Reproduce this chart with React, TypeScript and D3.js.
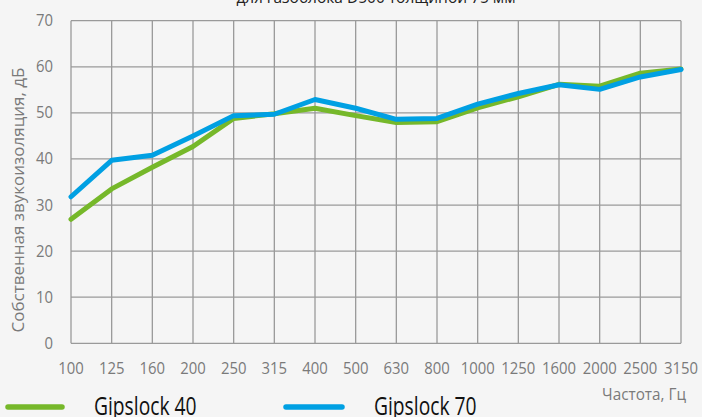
import React from "react";
import * as d3 from "d3";

const categories = ["100","125","160","200","250","315","400","500","630","800","1000","1250","1600","2000","2500","3150"];
const gipslock40 = [26.9,33.5,38.2,42.7,48.8,49.8,51.0,49.4,47.9,48.1,51.1,53.5,56.2,55.8,58.6,59.5];
const gipslock70 = [31.8,39.7,40.8,45.0,49.4,49.7,52.9,51.0,48.6,48.8,51.9,54.2,56.1,55.1,57.8,59.4];
const yTicks = [0,10,20,30,40,50,60,70];
const seriesNames = ["Gipslock 40","Gipslock 70"];
const colors = ["#76b82a","#00a0e3"];

const W = 702, H = 417;
const left = 71, right = 681, top = 20.7, bottom = 343.3;

export default function App() {
  const x = d3.scalePoint<string>().domain(categories).range([left, right]);
  const y = d3.scaleLinear().domain([0, 70]).range([bottom, top]);
  const line = d3.line<number>().x((_, i) => x(categories[i]) as number).y(d => y(d));
  const font = "'Open Sans', sans-serif";
  const series = [gipslock40, gipslock70];
  const legendX = [[8, 62, 94], [286, 342, 374]];
  return (
    <svg width={W} height={H} style={{ position: "absolute", left: 0, top: 0, background: "#f5f5f5" }}>
      <rect x={0} y={0} width={W} height={H} fill="#f5f5f5" />
      <text x={(left + right) / 2} y={3} textAnchor="middle" fontFamily={font} fontSize={15.5} fill="#222">для газоблока D500 толщиной 75 мм</text>
      {yTicks.map(t => (
        <g key={t}>
          <line x1={left} x2={right} y1={y(t)} y2={y(t)} stroke="#9a9a9a" strokeWidth={1.3} />
          <text transform={`translate(53,${y(t) + 5.5}) scale(0.93,1)`} textAnchor="end" fontFamily={font} fontSize={16} fill="#7a7a7a">{t}</text>
        </g>
      ))}
      {categories.map(c => (
        <g key={c}>
          <line x1={x(c)} x2={x(c)} y1={top} y2={bottom} stroke="#9a9a9a" strokeWidth={1.3} />
          <text transform={`translate(${x(c)},374) scale(0.93,1)`} textAnchor="middle" fontFamily={font} fontSize={16} fill="#7a7a7a">{c}</text>
        </g>
      ))}
      <text transform={`translate(24,200) rotate(-90)`} textAnchor="middle" fontFamily={font} fontSize={17} fill="#7a7a7a">Собственная звукоизоляция, дБ</text>
      {series.map((s, i) => (
        <path key={i} d={line(s) || ""} fill="none" stroke={colors[i]} strokeWidth={5} strokeLinejoin="round" strokeLinecap="round" />
      ))}
      {seriesNames.map((n, i) => (
        <g key={n}>
          <line x1={legendX[i][0]} x2={legendX[i][1]} y1={407} y2={407} stroke={colors[i]} strokeWidth={5.5} strokeLinecap="round" />
          <text transform={`translate(${legendX[i][2]},415) scale(0.77,1)`} fontFamily={font} fontSize={25} fill="#111">{n}</text>
        </g>
      ))}
      <text transform="translate(686,400) scale(0.9,1)" textAnchor="end" fontFamily={font} fontSize={17} fill="#7a7a7a">Частота, Гц</text>
    </svg>
  );
}
